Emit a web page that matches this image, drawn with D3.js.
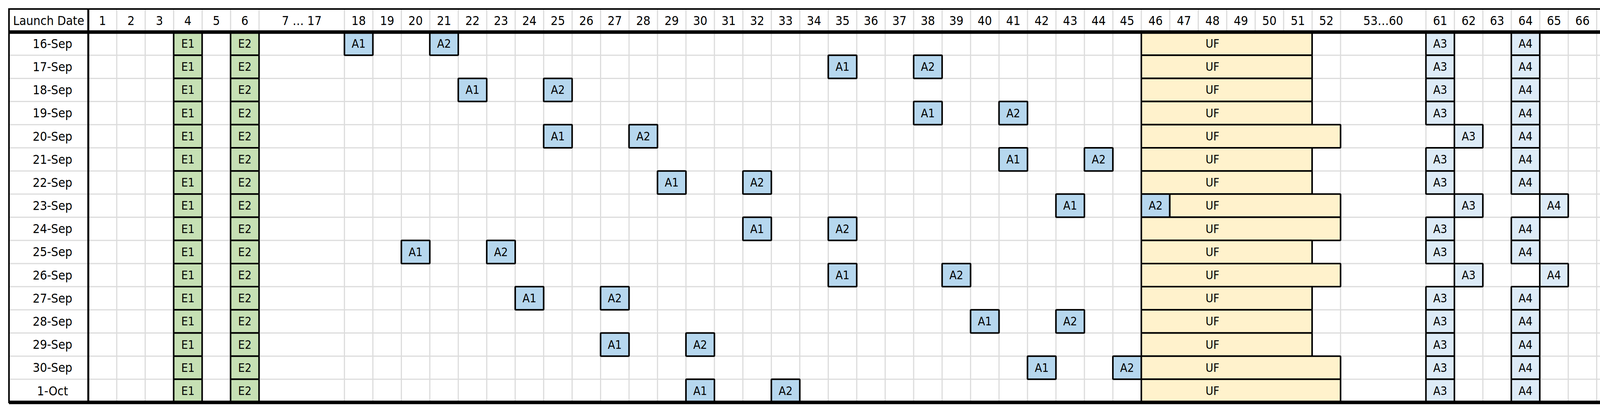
<!DOCTYPE html>
<html>
<head>
<meta charset="utf-8">
<script src="https://cdn.jsdelivr.net/npm/d3@7"></script>
<style>
  body { margin: 0; background: #fff; }
  text { font-family: "Liberation Sans Narrow", "DejaVu Sans Condensed", sans-serif; }
</style>
</head>
<body>
<svg></svg>
<script>
const dates = ['16-Sep','17-Sep','18-Sep','19-Sep','20-Sep','21-Sep','22-Sep','23-Sep',
  '24-Sep','25-Sep','26-Sep','27-Sep','28-Sep','29-Sep','30-Sep','1-Oct'];
const e1Col = 4, e2Col = 6;
const a1Col = [18, 35, 22, 38, 25, 41, 29, 43, 32, 20, 35, 24, 40, 27, 42, 30];
const a2Col = [21, 38, 25, 41, 28, 44, 32, 46, 35, 23, 39, 27, 43, 30, 45, 33];
const ufStart = [46, 46, 46, 46, 46, 46, 46, 47, 46, 46, 46, 46, 46, 46, 46, 46];
const ufEnd   = [51, 51, 51, 51, 52, 51, 51, 52, 52, 51, 52, 51, 51, 51, 52, 52];
const a3Col = [61, 61, 61, 61, 62, 61, 61, 62, 61, 61, 62, 61, 61, 61, 61, 61];
const a4Col = [64, 64, 64, 64, 64, 64, 64, 65, 64, 64, 65, 64, 64, 64, 64, 64];
// header labels with how many unit widths they take
const headers = [];
for (let i = 1; i <= 6; i++) headers.push({ label: String(i), span: 1 });
headers.push({ label: '7 … 17', span: 3 });
for (let i = 18; i <= 52; i++) headers.push({ label: String(i), span: 1 });
headers.push({ label: '53…60', span: 3 });
for (let i = 61; i <= 70; i++) headers.push({ label: String(i), span: 1 });

const svgWidth = 4382, svgHeight = 1051;
const leftX = 23, labelRight = 226, rightX = 4379, topY = 23, headBottom = 82, bottomY = 1029;

const svg = d3.select('svg').attr('width', svgWidth).attr('height', svgHeight);

const totalUnits = d3.sum(headers, d => d.span);
const x = d3.scaleLinear().domain([0, totalUnits]).range([labelRight, rightX]);
const y = d3.scaleBand().domain(dates).range([headBottom, bottomY]);

let u = 0;
headers.forEach(h => { h.start = u; u += h.span; });
const unit = c => c <= 6 ? c - 1 : c <= 52 ? c - 9 : c - 14;

// grid
const grid = svg.append('g').attr('stroke', '#dcdcdc').attr('stroke-width', 3);
headers.slice(1).forEach(h => {
  grid.append('line').attr('x1', x(h.start)).attr('x2', x(h.start))
    .attr('y1', topY).attr('y2', bottomY);
});
dates.slice(1).forEach(d => {
  grid.append('line').attr('x1', leftX).attr('x2', rightX)
    .attr('y1', y(d)).attr('y2', y(d));
});

// header text
svg.append('text').attr('x', (leftX + labelRight) / 2).attr('y', (topY + headBottom) / 2)
  .attr('dy', '0.35em').attr('text-anchor', 'middle').attr('font-size', 32)
  .text('Launch Date');
svg.append('g').selectAll('text').data(headers).join('text')
  .attr('x', d => x(d.start + d.span / 2)).attr('y', (topY + headBottom) / 2)
  .attr('dy', '0.35em').attr('text-anchor', 'middle').attr('font-size', 32)
  .text(d => d.label);
svg.append('g').selectAll('text').data(dates).join('text')
  .attr('x', (leftX + labelRight) / 2 + 10).attr('y', d => y(d) + y.bandwidth() / 2)
  .attr('dy', '0.35em').attr('text-anchor', 'middle').attr('font-size', 32)
  .text(d => d);

// blocks
const blocks = [];
dates.forEach((d, i) => {
  blocks.push({ d, s: unit(e1Col), e: unit(e1Col) + 1, t: 'E1', fill: '#c6e0b4' });
  blocks.push({ d, s: unit(e2Col), e: unit(e2Col) + 1, t: 'E2', fill: '#c6e0b4' });
  blocks.push({ d, s: unit(a1Col[i]), e: unit(a1Col[i]) + 1, t: 'A1', fill: '#b6d7ee' });
  blocks.push({ d, s: unit(a2Col[i]), e: unit(a2Col[i]) + 1, t: 'A2', fill: '#b6d7ee' });
  blocks.push({ d, s: unit(ufStart[i]), e: unit(ufEnd[i]) + 1, t: 'UF', fill: '#fff2cc' });
  blocks.push({ d, s: unit(a3Col[i]), e: unit(a3Col[i]) + 1, t: 'A3', fill: '#ddebf7' });
  blocks.push({ d, s: unit(a4Col[i]), e: unit(a4Col[i]) + 1, t: 'A4', fill: '#ddebf7' });
});
const bg = svg.append('g').selectAll('g').data(blocks).join('g');
bg.append('rect')
  .attr('x', d => x(d.s)).attr('y', d => y(d.d))
  .attr('width', d => x(d.e) - x(d.s)).attr('height', y.bandwidth())
  .attr('rx', 2)
  .attr('fill', d => d.fill).attr('stroke', '#000').attr('stroke-width', 4);
bg.append('text')
  .attr('x', d => (x(d.s) + x(d.e)) / 2)
  .attr('y', d => y(d.d) + y.bandwidth() / 2)
  .attr('dy', '0.35em').attr('text-anchor', 'middle').attr('font-size', 30)
  .text(d => d.t);
// UF text is centred on column 48
bg.filter(d => d.t === 'UF').select('text').attr('x', x(unit(48) + 0.5));

// frame
svg.append('rect').attr('x', leftX).attr('y', topY).attr('width', rightX - leftX)
  .attr('height', bottomY - topY).attr('fill', 'none').attr('stroke', '#000').attr('stroke-width', 4);
svg.append('line').attr('x1', leftX).attr('x2', rightX).attr('y1', headBottom).attr('y2', headBottom)
  .attr('stroke', '#000').attr('stroke-width', 9);
svg.append('line').attr('x1', leftX).attr('x2', rightX).attr('y1', bottomY).attr('y2', bottomY)
  .attr('stroke', '#000').attr('stroke-width', 9);
svg.append('line').attr('x1', labelRight).attr('x2', labelRight).attr('y1', topY).attr('y2', bottomY)
  .attr('stroke', '#000').attr('stroke-width', 5);
</script>
</body>
</html>
